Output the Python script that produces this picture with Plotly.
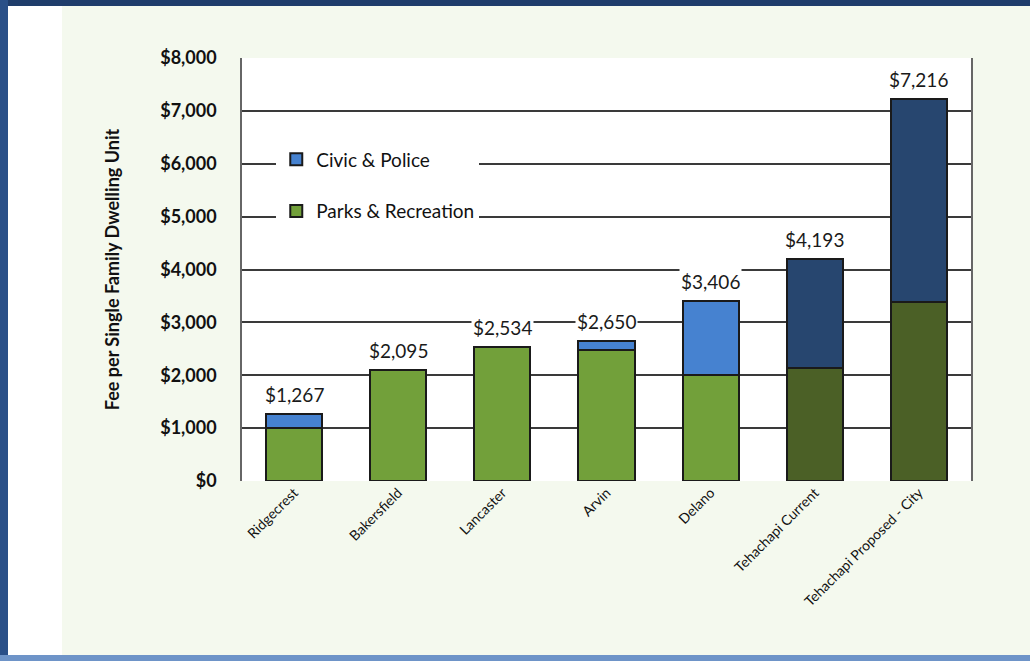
import plotly.graph_objects as go

categories = ["Ridgecrest", "Bakersfield", "Lancaster", "Arvin", "Delano",
              "Tehachapi Current", "Tehachapi Proposed - City"]
parks = [1000, 2095, 2534, 2480, 2000, 2145, 3390]
civic = [267, 0, 0, 170, 1406, 2048, 3826]
totals = [p + c for p, c in zip(parks, civic)]

parks_colors = ["#72A03A"] * 5 + ["#4B6026", "#4B6026"]
civic_colors = ["#4682D0"] * 5 + ["#27466F", "#27466F"]

W, H = 1030, 661
FONT = "Lato, Open Sans, sans-serif"
fig = go.Figure()
fig.add_trace(go.Bar(
    x=categories, y=parks, name="Parks & Recreation", legendgroup="p", legendrank=2,
    marker=dict(color=parks_colors, line=dict(color="#1a1a1a", width=2)),
))
fig.add_trace(go.Bar(
    x=categories, y=civic, name="Civic & Police", legendgroup="c", legendrank=1,
    marker=dict(color=civic_colors, line=dict(color="#1a1a1a", width=2)),
))

for cat, tot in zip(categories, totals):
    fig.add_annotation(
        x=cat, y=tot, text=f"${tot:,}", showarrow=False,
        yanchor="bottom", yshift=6, bgcolor="white", borderpad=1,
        font=dict(family=FONT, size=19, color="#1a1a1a"),
    )

px_x = lambda p: (p - 242) / 729
px_y = lambda p: (481 - p) / 423
shapes = [
    dict(type="rect", xref="paper", yref="paper", x0=px_x(0), x1=px_x(W),
         y0=px_y(0), y1=px_y(6), fillcolor="#1F3D6B", line_width=0, layer="above"),
    dict(type="rect", xref="paper", yref="paper", x0=px_x(0), x1=px_x(8),
         y0=px_y(0), y1=px_y(H), fillcolor="#2A5088", line_width=0, layer="above"),
    dict(type="rect", xref="paper", yref="paper", x0=px_x(0), x1=px_x(W),
         y0=px_y(655), y1=px_y(H), fillcolor="#6E94C8", line_width=0, layer="above"),
    dict(type="rect", xref="paper", yref="paper", x0=px_x(8), x1=px_x(62),
         y0=px_y(6), y1=px_y(655), fillcolor="#FFFFFF", line_width=0, layer="below"),
]

fig.update_layout(
    width=W, height=H,
    margin=dict(l=242, r=59, t=58, b=180),
    barmode="stack", bargap=0.46,
    paper_bgcolor="#F4F9EE", plot_bgcolor="white",
    font=dict(family=FONT, color="#111"),
    showlegend=True,
    legend=dict(
        x=0.047, y=0.805, xanchor="left", yanchor="top",
        bgcolor="white", borderwidth=0,
        traceorder="grouped", tracegroupgap=24,
        font=dict(size=19, color="#111"),
    ),
    shapes=shapes,
    yaxis=dict(
        range=[0, 8000], dtick=1000, tickprefix="$", tickformat=",",
        showgrid=True, gridcolor="#3a3a3a", gridwidth=1.6,
        showline=True, linecolor="#666", linewidth=1.5, mirror=True,
        ticks="", ticklabelstandoff=20,
        tickfont=dict(size=18, family=FONT, color="#111", weight="bold"),
        title=dict(text="Fee per Single Family Dwelling Unit", standoff=36,
                   font=dict(size=18, color="#111", weight="bold")),
        zeroline=False,
    ),
    xaxis=dict(
        tickangle=-45, showline=False, ticks="",
        tickfont=dict(size=14, color="#111"),
    ),
)

fig.write_html("out.html", config={"displayModeBar": False},
               post_script="document.body.style.margin='0px';")
